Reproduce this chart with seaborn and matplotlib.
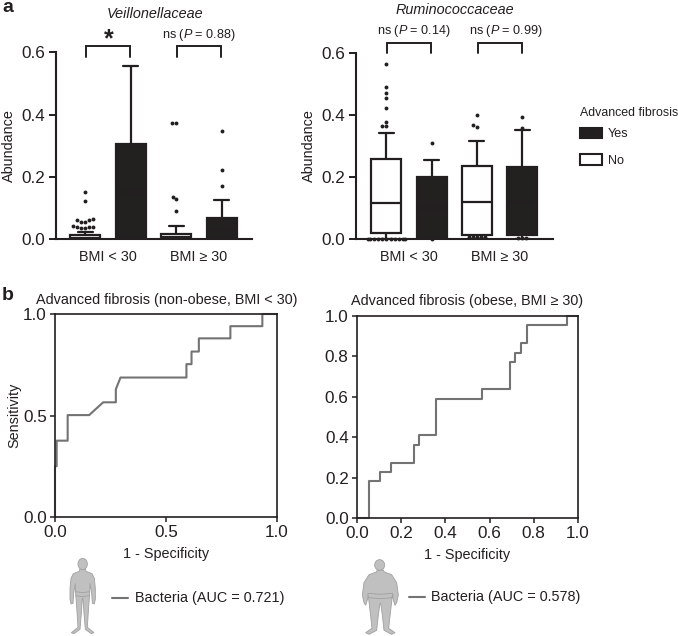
import numpy as np
import pandas as pd
import matplotlib
matplotlib.use('Agg')
import matplotlib.pyplot as plt
from matplotlib.patches import Patch, Polygon, Ellipse
import seaborn as sns

#_____1. DATA_____
BMI_GROUPS = ['BMI < 30', 'BMI \u2265 30']
FIBROSIS = ['No', 'Yes']

# five numbers per box: low whisker, q1, median, q3, high whisker
VEIL_BOXES = {
    ('BMI < 30', 'No'): [0.0, 0.0, 0.004, 0.012, 0.024],
    ('BMI < 30', 'Yes'): [0.0, 0.0, 0.15, 0.304, 0.557],
    ('BMI \u2265 30', 'No'): [0.0, 0.0, 0.006, 0.016, 0.042],
    ('BMI \u2265 30', 'Yes'): [0.0, 0.0, 0.03, 0.066, 0.124],
}
RUMI_BOXES = {
    ('BMI < 30', 'No'): [0.0, 0.018, 0.115, 0.257, 0.342],
    ('BMI < 30', 'Yes'): [0.0, 0.0, 0.10, 0.200, 0.256],
    ('BMI \u2265 30', 'No'): [0.0, 0.013, 0.119, 0.235, 0.315],
    ('BMI \u2265 30', 'Yes'): [0.0, 0.012, 0.12, 0.232, 0.352],
}

# outliers, same key order as the boxes
VEIL_DOTS = [
    [0.152, 0.122, 0.065, 0.061, 0.060, 0.056, 0.055, 0.042, 0.040, 0.040, 0.040, 0.036, 0.036],
    [],
    [0.374, 0.374, 0.136, 0.128, 0.091],
    [0.347, 0.223, 0.171],
]
RUMI_DOTS = [
    [0.565, 0.488, 0.470, 0.454, 0.423, 0.377, 0.363, 0.363,
     0, 0, 0, 0, 0, 0, 0, 0, 0, 0, 0],
    [0.308, 0],
    [0.400, 0.366, 0.361, 0.005, 0.005, 0.005, 0.005, 0.005],
    [0.392, 0.359, 0.003, 0.003, 0.003],
]

ROC_LEFT_X = [0, 0, 0.0075, 0.0075, 0.057, 0.057, 0.154, 0.217, 0.274, 0.274, 0.295, 0.592,
              0.592, 0.615, 0.615, 0.648, 0.648, 0.79, 0.79, 0.934, 0.934, 1]
ROC_LEFT_Y = [0, 0.25, 0.25, 0.376, 0.376, 0.502, 0.502, 0.565, 0.565, 0.629, 0.687, 0.687,
              0.753, 0.753, 0.815, 0.815, 0.88, 0.88, 0.94, 0.94, 1, 1]
ROC_RIGHT_X = [0, 0.053, 0.053, 0.102, 0.102, 0.155, 0.155, 0.256, 0.256, 0.281, 0.281, 0.358,
               0.358, 0.564, 0.564, 0.692, 0.692, 0.717, 0.717, 0.741, 0.741, 0.768, 0.768,
               0.949, 0.949, 1]
ROC_RIGHT_Y = [0, 0, 0.1815, 0.1815, 0.228, 0.228, 0.272, 0.272, 0.363, 0.363, 0.409, 0.409,
               0.591, 0.591, 0.637, 0.637, 0.774, 0.774, 0.818, 0.818, 0.865, 0.865, 0.954,
               0.954, 1, 1]

#_____2. STYLE_____
DARK = '#231f20'
GREY = '#737373'
W, H = 678, 636
sns.set_style('ticks')
plt.rcParams['font.family'] = ['Liberation Sans', 'DejaVu Sans']
plt.rcParams['mathtext.fontset'] = 'custom'
plt.rcParams['mathtext.rm'] = 'Liberation Sans'
plt.rcParams['mathtext.it'] = 'Liberation Sans:italic'
plt.rcParams['text.color'] = DARK
plt.rcParams['axes.labelcolor'] = DARK
plt.rcParams['xtick.color'] = DARK
plt.rcParams['ytick.color'] = DARK

fig = plt.figure(figsize=(W / 100, H / 100), dpi=100)


def px_axes(left, right, top, bottom):
    return fig.add_axes([left / W, 1 - bottom / H, (right - left) / W, (bottom - top) / H])


def box_panel(ax, boxes, dots, xlim):
    rows = [(g, f, v) for (g, f), vals in boxes.items() for v in vals]
    df = pd.DataFrame(rows, columns=['bmi', 'fibrosis', 'value'])
    sns.boxplot(data=df, x='bmi', y='value', hue='fibrosis', order=BMI_GROUPS, hue_order=FIBROSIS,
                palette={'No': 'white', 'Yes': DARK}, width=1.0, gap=0.34, whis=(0, 100),
                linecolor=DARK, linewidth=1.6, showfliers=False, legend=False, ax=ax)
    ax.set_xlim(*xlim)
    ax.set_ylim(0, 0.6)

    # dots sit on the box centres, so numeric x and native scale
    dot_x = [-0.25, 0.25, 0.75, 1.25]
    dot_rows = [(x, v) for x, vals in zip(dot_x, dots) for v in vals]
    dot_df = pd.DataFrame(dot_rows, columns=['x', 'value'])
    sns.swarmplot(data=dot_df, x='x', y='value', native_scale=True, color=DARK, size=2.8,
                  clip_on=False, zorder=5, warn_thresh=1, ax=ax)
    ax.set_xlim(*xlim)
    ax.set_ylim(0, 0.6)

    ax.set_xticks([0, 1])
    ax.set_xticklabels(BMI_GROUPS)
    ax.set_yticks([0, 0.2, 0.4, 0.6])
    ax.set_yticklabels(['0.0', '0.2', '0.4', '0.6'])
    ax.set_xlabel('')
    ax.set_ylabel('Abundance', fontsize=10.4)
    ax.yaxis.set_label_coords(-39.5 / 196.5, 0.5)
    ax.tick_params(axis='x', length=0, labelsize=10.4, pad=8)
    ax.tick_params(axis='y', length=5, width=1.4, labelsize=12.3, pad=2.5)
    sns.despine(ax=ax)
    for s in ['left', 'bottom']:
        ax.spines[s].set_linewidth(1.5)
        ax.spines[s].set_color(DARK)


def bracket(ax, center, top, bottom):
    ax.plot([center - 0.243, center - 0.243, center + 0.243, center + 0.243],
            [bottom, top, top, bottom], color=DARK, lw=1.4, clip_on=False,
            solid_joinstyle='miter')


def roc_panel(ax, x, y, ticks, labels):
    roc = pd.DataFrame({'x': x, 'y': y})
    sns.lineplot(data=roc, x='x', y='y', sort=False, estimator=None, color=GREY, lw=1.5,
                 clip_on=False, ax=ax)
    ax.set_xlim(0, 1)
    ax.set_ylim(0, 1)
    ax.set_xticks(ticks)
    ax.set_xticklabels(labels)
    ax.set_yticks(ticks)
    ax.set_yticklabels(labels)
    ax.tick_params(length=3.5, width=1.1, labelsize=12.3, pad=2.5)
    ax.set_xlabel('1 - Specificity', fontsize=10.4, labelpad=4.5)
    for s in ax.spines.values():
        s.set_linewidth(1.2)
        s.set_color(DARK)


#_____3. PANELS_____
ax1 = px_axes(55.5, 252, 52.3, 239)
box_panel(ax1, VEIL_BOXES, VEIL_DOTS, (-0.577, 1.582))
bracket(ax1, 0, 0.621, 0.586)
bracket(ax1, 1, 0.621, 0.586)

ax2 = px_axes(356, 553, 52.7, 239)
box_panel(ax2, RUMI_BOXES, RUMI_DOTS, (-0.586, 1.59))
bracket(ax2, 0, 0.632, 0.599)
bracket(ax2, 1, 0.632, 0.599)

handles = [Patch(facecolor=DARK, edgecolor=DARK, lw=1.5, label='Yes'),
           Patch(facecolor='white', edgecolor=DARK, lw=1.5, label='No')]
fig.legend(handles=handles, frameon=False, fontsize=9.1, handlelength=1.75, handleheight=0.95,
           labelspacing=1.12, handletextpad=0.5, borderpad=0, borderaxespad=0,
           loc='upper left', bbox_to_anchor=(579.5 / W, 1 - 127.5 / H))

ax3 = px_axes(55, 277, 314, 517)
roc_panel(ax3, ROC_LEFT_X, ROC_LEFT_Y, [0, 0.5, 1], ['0.0', '0.5', '1.0'])
ax3.set_ylabel('Sensitivity', fontsize=10.4)
ax3.yaxis.set_label_coords(-34 / 222, 0.5)

ax4 = px_axes(357, 578, 316, 518)
roc_panel(ax4, ROC_RIGHT_X, ROC_RIGHT_Y, [0, 0.2, 0.4, 0.6, 0.8, 1],
          ['0.0', '0.2', '0.4', '0.6', '0.8', '1.0'])
ax4.set_ylabel('')

#_____4. OVERLAY IN PIXEL COORDS_____
ov = fig.add_axes([0, 0, 1, 1], zorder=10)
ov.set_xlim(0, W)
ov.set_ylim(H, 0)
ov.axis('off')
ov.patch.set_alpha(0)

ov.text(2, 8, 'a', fontsize=14, fontweight='bold', va='center')
ov.text(2, 295, 'b', fontsize=14, fontweight='bold', va='center')
ov.text(155, 14, 'Veillonellaceae', fontsize=10.4, style='italic', ha='center', va='center')
ov.text(455, 10, 'Ruminococcaceae', fontsize=10.4, style='italic', ha='center', va='center')
ov.text(108.5, 39, '*', fontsize=18, fontweight='bold', ha='center', va='center')
ov.text(199, 35, 'ns ($P$ = 0.88)', fontsize=9.1, ha='center', va='center')
ov.text(413.5, 31, 'ns ($P$ = 0.14)', fontsize=9.1, ha='center', va='center')
ov.text(506, 31, 'ns ($P$ = 0.99)', fontsize=9.1, ha='center', va='center')
ov.text(580, 113, 'Advanced fibrosis', fontsize=8.9, va='center')
ov.text(166.5, 300, 'Advanced fibrosis (non-obese, BMI < 30)', fontsize=10.4, ha='center', va='center')
ov.text(467.5, 300.5, 'Advanced fibrosis (obese, BMI \u2265 30)', fontsize=10.4, ha='center', va='center')

ov.plot([112, 128], [597.7, 597.7], color=GREY, lw=1.5)
ov.text(135, 598, 'Bacteria (AUC = 0.721)', fontsize=10.4, va='center')
ov.plot([409, 425], [597, 597], color=GREY, lw=1.5)
ov.text(431, 597.5, 'Bacteria (AUC = 0.578)', fontsize=10.4, va='center')


def person(cx, x0, y0, head, half, waist):
    # half outline given in 3x crop units, mirrored around cx
    right = [(cx + dx, y) for dx, y in half]
    left = [(cx - dx, y) for dx, y in reversed(half)]
    pts = [(x0 + a / 3, y0 + b / 3) for a, b in right + left]
    ov.add_patch(Polygon(pts, closed=True, fc='#c0c0c0', ec='#a0a0a0', lw=0.6))
    ov.add_patch(Ellipse((x0 + head[0] / 3, y0 + head[1] / 3), head[2] / 1.5, head[3] / 1.5,
                         fc='#c0c0c0', ec='#a0a0a0', lw=0.6))
    wx = [x0 + (cx - waist[0]) / 3, x0 + cx / 3, x0 + (cx + waist[0]) / 3]
    for dy in (0, waist[2]):
        ov.plot(wx, [y0 + (waist[1] + dy) / 3, y0 + (waist[1] + dy + 3) / 3, y0 + (waist[1] + dy) / 3],
                color='#a0a0a0', lw=0.6)


person(68, 60, 550, (68, 42, 14, 17),
       [(8, 56), (10, 64), (28, 71), (35, 85), (38, 115), (38, 148), (35, 162), (29, 160),
        (27, 130), (22, 100), (21, 130), (18, 170), (14, 232), (34, 248), (26, 251), (8, 238),
        (4, 190), (1, 145)],
       (21, 125, 12))
person(76, 355, 550, (74, 45, 15, 16),
       [(9, 60), (12, 66), (34, 74), (49, 98), (54, 135), (49, 158), (44, 166), (39, 150),
        (37, 130), (34, 155), (30, 190), (25, 235), (44, 248), (34, 253), (11, 241), (6, 195),
        (1, 160)],
       (36, 130, 13))

plt.savefig('out.png', dpi=100)
